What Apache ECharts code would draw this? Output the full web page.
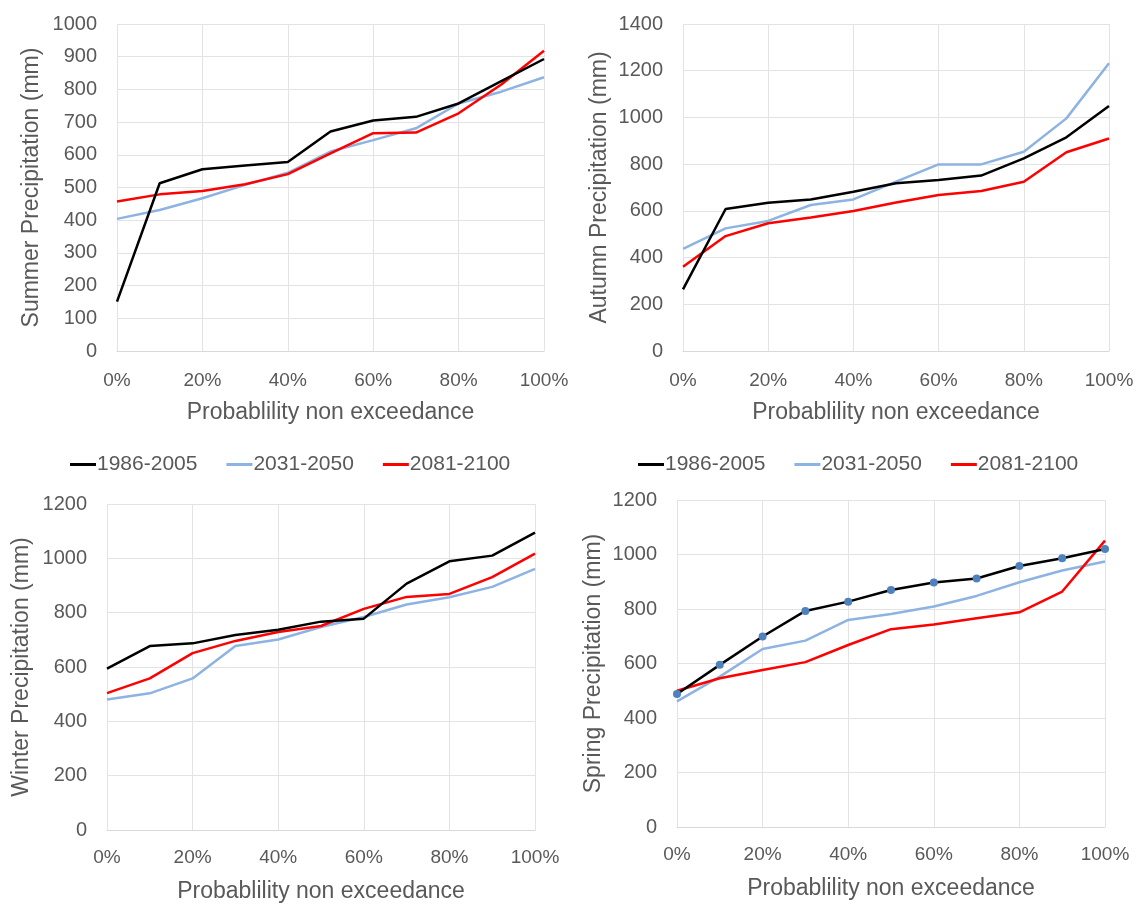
<!DOCTYPE html>
<html><head><meta charset="utf-8">
<script src="https://cdn.jsdelivr.net/npm/echarts@6/dist/echarts.min.js"></script>
<style>html,body{margin:0;padding:0;background:#fff}#c{width:1138px;height:904px}</style>
</head><body><div id="c"></div>
<script>
const probs = [0,10,20,30,40,50,60,70,80,90,100];
const periods = ['1986-2005','2031-2050','2081-2100'];
const xTitle = 'Probablility non exceedance';
const panelTitles = ['Summer Precipitation (mm)','Autumn Precipitation (mm)','Winter Precipitation (mm)','Spring Precipitation (mm)'];

const summer1986 = [151,513,556,567,578,671,705,716,757,825,893];
const summer2031 = [404,431,467,508,545,610,645,681,757,793,837];
const summer2081 = [457,479,489,510,541,604,666,668,727,815,918];

const autumn1986 = [264,608,635,649,682,718,732,751,825,915,1049];
const autumn2031 = [437,525,557,625,649,725,799,799,853,996,1232];
const autumn2081 = [361,492,547,572,599,636,668,685,725,851,910];

const winter1986 = [594,677,687,718,737,767,778,907,989,1010,1095];
const winter2031 = [480,503,558,677,701,747,784,830,857,895,961];
const winter2081 = [504,558,651,696,729,751,814,858,869,931,1017];

const spring1986 = [488,595,699,793,827,870,897,912,958,986,1020];
const spring2031 = [461,552,653,684,760,782,809,848,898,941,974];
const spring2081 = [500,546,576,605,668,726,743,766,788,864,1051];

const yMax = [1000,1400,1200,1200];
const yStep = [100,200,200,200];

const panels = [
  [summer1986, summer2031, summer2081],
  [autumn1986, autumn2031, autumn2081],
  [winter1986, winter2031, winter2081],
  [spring1986, spring2031, spring2081]
];

const colors = ['#000000','#8db3e2','#ff0000'];
const txt = '#595959';
const font = 'Liberation Sans';

const grids = [
  {left:117, top:24, width:427, height:327},
  {left:683, top:24, width:426, height:327},
  {left:107, top:504, width:428, height:328},
  {left:677, top:500, width:428, height:327}
];
const yNameGap = [74,72,74,72];
const xLabelMargin = [20,20,18,18];

const xAxes = grids.map((g,i)=>({
  type:'value', gridIndex:i, min:0, max:100, interval:20,
  name:xTitle, nameLocation:'middle', nameGap:50,
  nameTextStyle:{fontSize:23, color:txt, fontFamily:font},
  axisLine:{show:true, lineStyle:{color:'#d9d9d9', width:1}},
  axisTick:{show:false},
  axisLabel:{formatter:'{value}%', fontSize:19, color:txt, fontFamily:font, margin:xLabelMargin[i]},
  splitLine:{show:true, lineStyle:{color:'#e3e3e3', width:1}}
}));
const yAxes = grids.map((g,i)=>({
  type:'value', gridIndex:i, min:0, max:yMax[i], interval:yStep[i],
  name:panelTitles[i], nameLocation:'middle', nameGap:yNameGap[i],
  nameTextStyle:{fontSize:23, color:txt, fontFamily:font},
  axisLine:{show:false}, axisTick:{show:false},
  axisLabel:{fontSize:20, color:txt, fontFamily:font, margin:20, formatter:(v)=>String(v)},
  splitLine:{show:true, lineStyle:{color:'#e3e3e3', width:1}}
}));

const series = [];
panels.forEach((sets,pi)=>{
  sets.forEach((vals,si)=>{
    const s = {
      type:'line', name:periods[si], xAxisIndex:pi, yAxisIndex:pi,
      data: probs.map((p,k)=>[p, vals[k]]),
      showSymbol:false, symbol:'none',
      lineStyle:{color:colors[si], width:2.5},
      itemStyle:{color:colors[si]},
      emphasis:{disabled:true}, z: si===0 ? 3 : 2
    };
    if (pi===3 && si===0) {
      s.showSymbol = true; s.symbol = 'circle'; s.symbolSize = 8;
      s.itemStyle = {color:'#4f81bd'}; s.z = 4;
    }
    series.push(s);
  });
});

const legendData = periods.map((n,i)=>({name:n, itemStyle:{color:colors[i]}}));
const legendBase = {
  data: legendData, icon:'rect', itemWidth:26, itemHeight:3, itemGap:29,
  padding:0, selectedMode:false,
  textStyle:{fontSize:21, color:txt, fontFamily:font, padding:[0,0,0,-4]}
};

const chart = echarts.init(document.getElementById('c'), null, {renderer:'canvas'});
chart.setOption({
  animation:false,
  backgroundColor:'#fff',
  grid: grids,
  xAxis: xAxes,
  yAxis: yAxes,
  legend: [
    Object.assign({}, legendBase, {left:70, top:454}),
    Object.assign({}, legendBase, {left:638, top:454})
  ],
  series: series
});
</script></body></html>
